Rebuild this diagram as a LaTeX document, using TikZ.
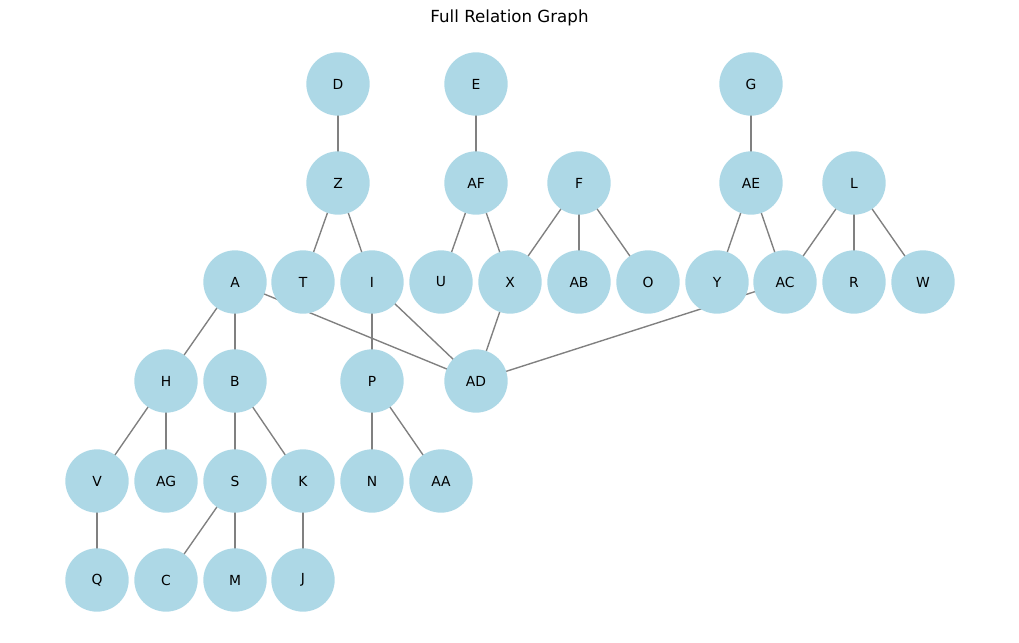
\documentclass[tikz,border=0pt]{standalone}
\usepackage{fontspec}
\setmainfont{DejaVu Sans}
\usepackage{tikz}
\usetikzlibrary{backgrounds}

\begin{document}
\begin{tikzpicture}[x=0.75pt,y=-0.75pt,
  vertex/.style={circle,fill={rgb,255:red,173;green,216;blue,230},inner sep=0pt,minimum size=47.5pt,font=\fontsize{10.4}{12}\selectfont},
  link/.style={draw={rgb,255:red,128;green,128;blue,128},line width=1.04pt}]
\useasboundingbox (0,0) rectangle (1019,642);

\node[font=\fontsize{12.5}{15}\selectfont] (title) at (509.5,18) {Full Relation Graph};

% nodes at level 0:
\node[vertex] (D) at (338,84) {D};
\node[vertex] (E) at (476,84) {E};
\node[vertex] (G) at (751,84) {G};
% nodes at level 1:
\node[vertex] (Z) at (338,183) {Z};
\node[vertex] (AF) at (476,183) {AF};
\node[vertex] (F) at (579,183) {F};
\node[vertex] (AE) at (751,183) {AE};
\node[vertex] (L) at (854,183) {L};
% nodes at level 2:
\node[vertex] (A) at (235,282) {A};
\node[vertex] (T) at (303,282) {T};
\node[vertex] (I) at (372,282) {I};
\node[vertex] (U) at (441,282) {U};
\node[vertex] (X) at (510,282) {X};
\node[vertex] (AB) at (579,282) {AB};
\node[vertex] (O) at (648,282) {O};
\node[vertex] (Y) at (717,282) {Y};
\node[vertex] (AC) at (785,282) {AC};
\node[vertex] (R) at (854,282) {R};
\node[vertex] (W) at (923,282) {W};
% nodes at level 3:
\node[vertex] (H) at (166,381) {H};
\node[vertex] (B) at (235,381) {B};
\node[vertex] (P) at (372,381) {P};
\node[vertex] (AD) at (476,381) {AD};
% nodes at level 4:
\node[vertex] (V) at (97,481) {V};
\node[vertex] (AG) at (166,481) {AG};
\node[vertex] (S) at (235,481) {S};
\node[vertex] (K) at (303,481) {K};
\node[vertex] (N) at (372,481) {N};
\node[vertex] (AA) at (441,481) {AA};
% nodes at level 5:
\node[vertex] (Q) at (97,580) {Q};
\node[vertex] (C) at (166,580) {C};
\node[vertex] (M) at (235,580) {M};
\node[vertex] (J) at (303,580) {J};

% edges, behind the nodes:
\begin{scope}[on background layer]
\draw[link] (D.center) -- (Z.center);
\draw[link] (E.center) -- (AF.center);
\draw[link] (G.center) -- (AE.center);
\draw[link] (Z.center) -- (T.center);
\draw[link] (Z.center) -- (I.center);
\draw[link] (AF.center) -- (U.center);
\draw[link] (AF.center) -- (X.center);
\draw[link] (F.center) -- (X.center);
\draw[link] (F.center) -- (AB.center);
\draw[link] (F.center) -- (O.center);
\draw[link] (AE.center) -- (Y.center);
\draw[link] (AE.center) -- (AC.center);
\draw[link] (L.center) -- (AC.center);
\draw[link] (L.center) -- (R.center);
\draw[link] (L.center) -- (W.center);
\draw[link] (A.center) -- (H.center);
\draw[link] (A.center) -- (B.center);
\draw[link] (A.center) -- (AD.center);
\draw[link] (I.center) -- (P.center);
\draw[link] (I.center) -- (AD.center);
\draw[link] (X.center) -- (AD.center);
\draw[link] (AC.center) -- (AD.center);
\draw[link] (H.center) -- (V.center);
\draw[link] (H.center) -- (AG.center);
\draw[link] (B.center) -- (S.center);
\draw[link] (B.center) -- (K.center);
\draw[link] (P.center) -- (N.center);
\draw[link] (P.center) -- (AA.center);
\draw[link] (V.center) -- (Q.center);
\draw[link] (S.center) -- (C.center);
\draw[link] (S.center) -- (M.center);
\draw[link] (K.center) -- (J.center);
\end{scope}
\end{tikzpicture}
\end{document}
